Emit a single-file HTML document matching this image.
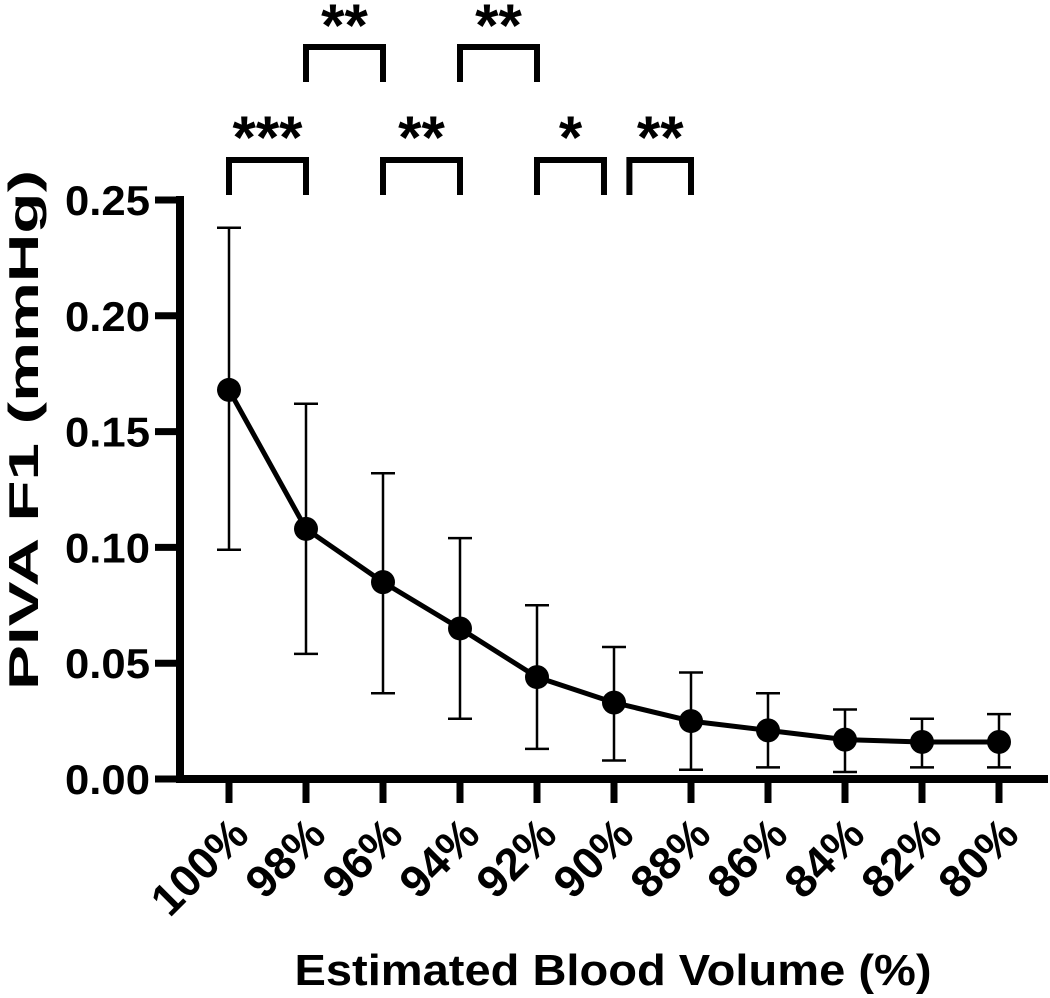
<!DOCTYPE html>
<html><head><meta charset="utf-8"><style>
html,body{margin:0;padding:0;background:#fff;}
svg{display:block;font-family:"Liberation Sans",Arial,sans-serif;font-weight:bold;}
</style></head><body>
<svg id="chart" width="1050" height="998" viewBox="0 0 1050 998">
<g id="axes"></g><g id="series"></g><g id="sig"></g>
<text transform="translate(38,430) rotate(-90)" text-anchor="middle" font-size="42" textLength="520" lengthAdjust="spacingAndGlyphs">PIVA  F1 (mmHg)</text>
<text x="613" y="985" text-anchor="middle" font-size="44" textLength="637" lengthAdjust="spacingAndGlyphs">Estimated Blood Volume (%)</text>
</svg>
<script>
const categories=["100%","98%","96%","94%","92%","90%","88%","86%","84%","82%","80%"];
const means=[0.168,0.108,0.085,0.065,0.044,0.033,0.025,0.021,0.017,0.016,0.016];
const upper=[0.238,0.162,0.132,0.104,0.075,0.057,0.046,0.037,0.030,0.026,0.028];
const lower=[0.099,0.054,0.037,0.026,0.013,0.008,0.004,0.005,0.003,0.005,0.005];
const yTicks=[0,0.05,0.10,0.15,0.20,0.25];
const yTickLabels=["0.00","0.05","0.10","0.15","0.20","0.25"];
const sigFrom=[0,2,4,5.2,1,3];
const sigTo=[1,3,5-0.13,6,2,4];
const sigLabels=["***","**","*","**","**","**"];
const sigRow=[0,0,0,0,1,1];

const NS="http://www.w3.org/2000/svg";
const x=i=>229+i*77;
const y=v=>779-v*2316;
function mk(tag,attrs,parent){const e=document.createElementNS(NS,tag);for(const k in attrs)e.setAttribute(k,attrs[k]);parent.appendChild(e);return e;}
const axes=document.getElementById('axes'),series=document.getElementById('series'),sig=document.getElementById('sig');

let e=mk('line',{x1:180,y1:y(0.25)-4,x2:180,y2:783,stroke:'#000','stroke-width':8},axes);


e=mk('line',{x1:176,y1:779,x2:1048,y2:779,stroke:'#000','stroke-width':8},axes);


yTicks.forEach((v,i)=>{
  let t=mk('line',{x1:155,y1:y(v),x2:180,y2:y(v),stroke:'#000','stroke-width':7},axes);
  
  
  let l=mk('text',{x:150,y:y(v)+15,'text-anchor':'end','font-size':42,textLength:85,lengthAdjust:'spacingAndGlyphs'},axes);
  l.textContent=yTickLabels[i];
  
  
});
categories.forEach((c,i)=>{
  let t=mk('line',{x1:x(i),y1:779,x2:x(i),y2:803,stroke:'#000','stroke-width':7},axes);
  
  
  let l=mk('text',{transform:`translate(${x(i)+22},837) rotate(-45)`,'text-anchor':'end','font-size':45},axes);
  l.textContent=c;
  
  
});
categories.forEach((c,i)=>{
  let g=mk('g',{},series);
  
  
  mk('line',{x1:x(i),y1:y(upper[i]),x2:x(i),y2:y(lower[i]),stroke:'#000','stroke-width':2.5},g);
  mk('line',{x1:x(i)-12,y1:y(upper[i]),x2:x(i)+12,y2:y(upper[i]),stroke:'#000','stroke-width':2.5},g);
  mk('line',{x1:x(i)-12,y1:y(lower[i]),x2:x(i)+12,y2:y(lower[i]),stroke:'#000','stroke-width':2.5},g);
});
let pl=mk('polyline',{points:means.map((v,i)=>x(i)+','+y(v)).join(' '),fill:'none',stroke:'#000','stroke-width':5,'stroke-linejoin':'round'},series);


means.forEach((v,i)=>{
  let p=mk('circle',{cx:x(i),cy:y(v),r:12,fill:'#000'},series);
  
  
});
sigLabels.forEach((s,i)=>{
  const top=sigRow[i]?47:160, bot=top+35;
  const a=x(sigFrom[i]), b=x(sigTo[i]);
  let p=mk('path',{d:`M${a},${bot} V${top} H${b} V${bot}`,fill:'none',stroke:'#000','stroke-width':6},sig);
  
  
  let t=mk('text',{x:(a+b)/2,y:sigRow[i]?46:158,'text-anchor':'middle','font-size':60},sig);
  t.textContent=s;
  
  
});
</script>
</body></html>
